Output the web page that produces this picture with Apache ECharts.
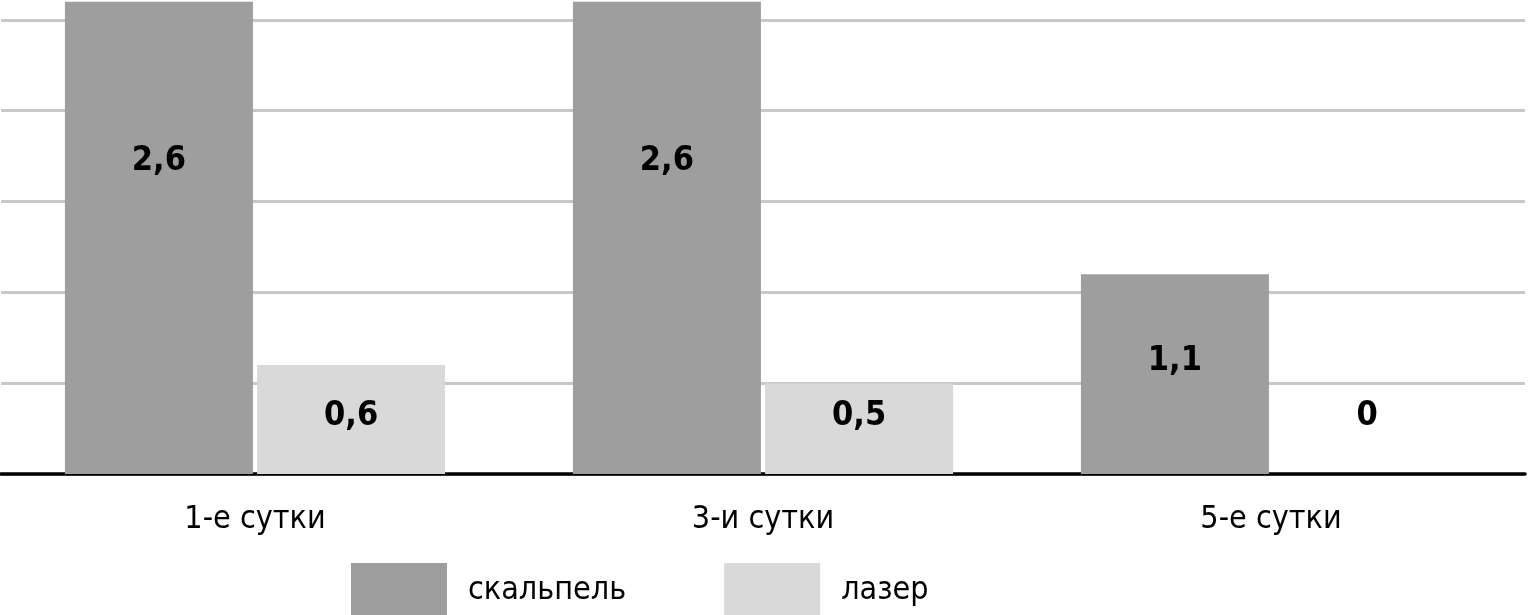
<!DOCTYPE html>
<html>
<head>
<meta charset="utf-8">
<script src="https://cdn.jsdelivr.net/npm/echarts@6/dist/echarts.min.js"></script>
<style>
html,body{margin:0;padding:0;background:#fff;overflow:hidden;}
#chart{width:1528px;height:686px;margin-top:-71px;}
</style>
</head>
<body>
<div id="chart"></div>
<script>
const categories = ['1-е сутки', '3-и сутки', '5-е сутки'];
const seriesNames = ['скальпель', 'лазер'];
const scalpel = [2.6, 2.6, 1.1];
const laser = [0.6, 0.5, 0];

// layout: label distance above the baseline (px), per series / per category
const labelDist = [[296, 296, 96], [41, 41, 41]];
const colors = ['#9e9e9e', '#d9d9d9'];
const FONT = "'Liberation Sans Narrow', 'DejaVu Sans Condensed', sans-serif";

function fmt(v) { return String(v).replace('.', ','); }

function makeSeries(name, values, idx) {
  return {
    name: name,
    type: 'bar',
    barWidth: 188,
    barGap: '2.2%',
    itemStyle: { color: colors[idx] },
    data: values.map((v, i) => ({
      value: v,
      label: {
        show: true,
        position: 'insideBottom',
        distance: labelDist[idx][i],
        formatter: () => fmt(v),
        color: '#000',
        fontFamily: FONT,
        fontWeight: 'bold',
        fontSize: 34
      }
    })),
    silent: true
  };
}

const chart = echarts.init(document.getElementById('chart'));
chart.setOption({
  animation: false,
  grid: { left: 1, right: 3, top: 0, bottom: 141, containLabel: false },
  legend: {
    data: seriesNames,
    left: 346,
    top: 629,
    itemWidth: 96,
    itemHeight: 56,
    itemGap: 98,
    icon: 'rect',
    textStyle: { fontFamily: FONT, fontSize: 32, color: '#000', padding: [0, 0, 0, 16] }
  },
  xAxis: {
    type: 'category',
    data: categories,
    axisLine: { show: true, lineStyle: { color: '#000', width: 3.5 } },
    axisTick: { show: false },
    axisLabel: { fontFamily: FONT, fontSize: 32, color: '#000', margin: 30 }
  },
  yAxis: {
    type: 'value',
    min: 0,
    max: 3,
    interval: 0.5,
    axisLine: { show: false },
    axisTick: { show: false },
    axisLabel: { show: false },
    splitLine: { lineStyle: { color: '#c8c8c8', width: 3 } }
  },
  series: [makeSeries(seriesNames[0], scalpel, 0), makeSeries(seriesNames[1], laser, 1)]
});
</script>
</body>
</html>
